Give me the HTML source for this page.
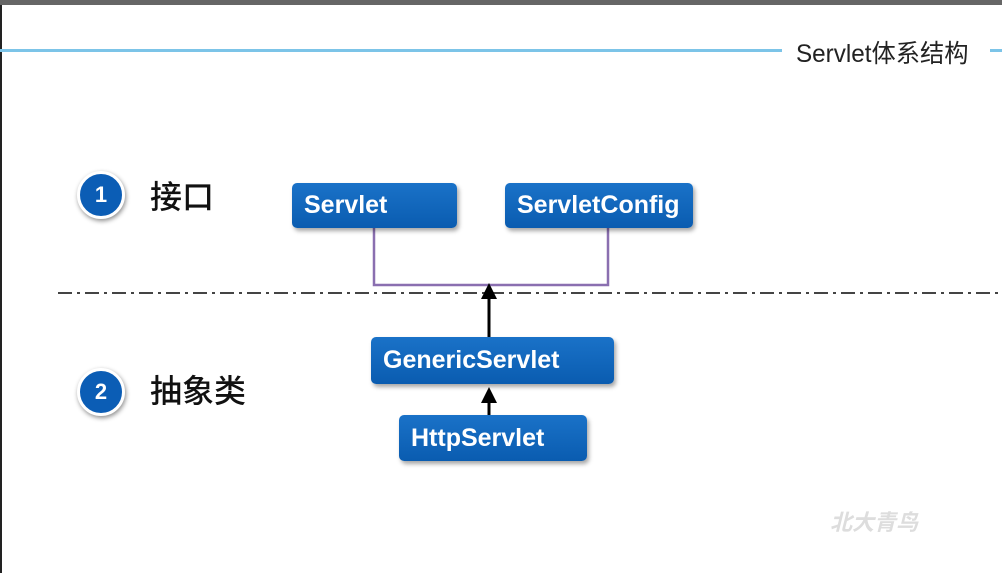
<!DOCTYPE html>
<html><head><meta charset="utf-8"><style>
body{margin:0;width:1002px;height:573px;background:#fff;position:relative;overflow:hidden;font-family:"Liberation Sans","Noto Sans CJK SC",sans-serif}
.b{position:absolute;background:linear-gradient(#1a72c8,#0a5cb0);border-radius:5px;color:#fff;font-weight:bold;font-size:25px;box-shadow:2px 3px 4px rgba(0,0,0,.35);box-sizing:border-box;padding-left:12px;display:flex;align-items:center;white-space:nowrap}
.c{position:absolute;width:42px;height:42px;border-radius:50%;background:#0b5db5;border:3px solid #fff;box-shadow:1px 2px 5px rgba(0,0,0,.45);color:#fff;font-weight:bold;font-size:22px;display:flex;align-items:center;justify-content:center}
.t{position:absolute;font-size:32px;color:#111;font-family:"Noto Sans CJK SC",sans-serif;font-weight:500}
</style></head><body>
<div style="position:absolute;left:0;top:0;width:1002px;height:5px;background:#666"></div>
<div style="position:absolute;left:0;top:5px;width:2px;height:568px;background:#222"></div>
<div style="position:absolute;left:0;top:49px;width:782px;height:3px;background:#7cc4e8"></div>
<div style="position:absolute;left:990px;top:49px;width:12px;height:3px;background:#7cc4e8"></div>
<div style="position:absolute;left:796px;top:34px;font-size:25px;color:#222;font-family:'Liberation Sans','Noto Sans CJK SC',sans-serif;white-space:nowrap;transform:scaleX(.97);transform-origin:left">Servlet体系结构</div>
<div class="c" style="left:77px;top:171px">1</div>
<div class="c" style="left:77px;top:368px">2</div>
<div class="t" style="left:150px;top:172px">接口</div>
<div class="t" style="left:150px;top:366px">抽象类</div>
<svg style="position:absolute;left:0;top:0" width="1002" height="573">
<line x1="58" y1="293" x2="1002" y2="293" stroke="#444" stroke-width="2" stroke-dasharray="14,5,3,5"/>
<polyline points="374,228 374,285 608,285 608,228" fill="none" stroke="#8a6fb0" stroke-width="2.5"/>
<line x1="489" y1="340" x2="489" y2="296" stroke="#000" stroke-width="3"/>
<polygon points="489,283 481,299 497,299" fill="#000"/>
<line x1="489" y1="415" x2="489" y2="400" stroke="#000" stroke-width="3"/>
<polygon points="489,387 481,403 497,403" fill="#000"/>
</svg>
<div class="b" style="left:292px;top:183px;width:165px;height:45px">Servlet</div>
<div class="b" style="left:505px;top:183px;width:188px;height:45px">ServletConfig</div>
<div class="b" style="left:371px;top:337px;width:243px;height:47px">GenericServlet</div>
<div class="b" style="left:399px;top:415px;width:188px;height:46px">HttpServlet</div>
<div style="position:absolute;left:830px;top:505px;font-size:22px;color:#ddd;font-weight:bold;font-style:italic">北大青鸟</div>
</body></html>
